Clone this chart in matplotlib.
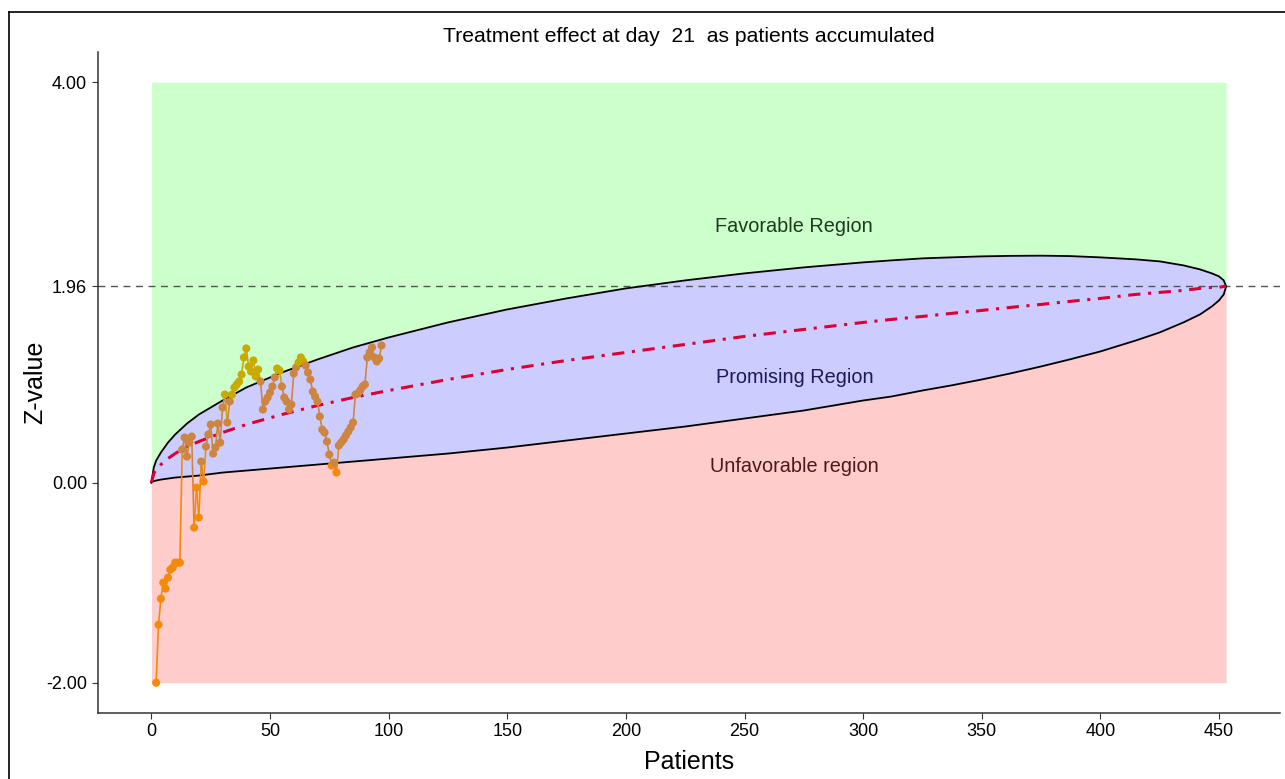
import matplotlib
matplotlib.use("Agg")
import matplotlib.pyplot as plt
import numpy as np
from matplotlib.collections import LineCollection
from matplotlib.lines import Line2D

plt.rcParams["font.family"] = ["Liberation Sans", "DejaVu Sans"]

# boundary curves (patients -> z)
bound_n = [0, 1, 2, 4, 7, 10, 15, 20, 30, 40, 55, 70, 85, 100, 125, 150, 175,
           200, 225, 250, 275, 300, 312, 325, 337, 350, 362, 375, 387, 400,
           415, 425, 435, 442, 447, 450, 452, 453]
upper_z = [0.00, 0.15, 0.22, 0.30, 0.40, 0.48, 0.59, 0.68, 0.82, 0.95, 1.10,
           1.23, 1.35, 1.45, 1.60, 1.73, 1.84, 1.94, 2.02, 2.09, 2.15, 2.20,
           2.22, 2.24, 2.25, 2.26, 2.265, 2.267, 2.263, 2.25, 2.23, 2.21,
           2.17, 2.13, 2.09, 2.06, 2.02, 1.96]
lower_z = [0.00, 0.015, 0.02, 0.03, 0.04, 0.05, 0.06, 0.07, 0.10, 0.12, 0.15,
           0.18, 0.21, 0.24, 0.29, 0.35, 0.42, 0.49, 0.56, 0.64, 0.72, 0.82,
           0.86, 0.92, 0.97, 1.03, 1.09, 1.16, 1.23, 1.31, 1.42, 1.50, 1.60,
           1.68, 1.76, 1.82, 1.88, 1.96]
mid_z = [0.00, 0.09, 0.13, 0.18, 0.24, 0.29, 0.36, 0.41, 0.50, 0.58, 0.68,
         0.77, 0.85, 0.92, 1.03, 1.13, 1.22, 1.30, 1.38, 1.46, 1.53, 1.60,
         1.63, 1.66, 1.69, 1.72, 1.75, 1.78, 1.81, 1.84, 1.88, 1.90, 1.92,
         1.94, 1.95, 1.95, 1.96, 1.96]

# observed trajectory
patients = list(range(2, 98))
zvals = [-2.00, -1.42, -1.16, -1.00, -1.06, -0.95, -0.87, -0.85, -0.80, -0.80,
         -0.80, 0.33, 0.45, 0.26, 0.40, 0.46, -0.45, -0.05, -0.35, 0.21,
         0.01, 0.36, 0.48, 0.58, 0.29, 0.35, 0.59, 0.40, 0.75, 0.88,
         0.60, 0.81, 0.88, 0.95, 0.98, 1.01, 1.08, 1.25, 1.34, 1.16,
         1.11, 1.22, 1.06, 1.13, 1.01, 0.73, 0.81, 0.85, 0.90, 0.96,
         1.05, 1.14, 1.12, 0.96, 0.85, 0.81, 0.73, 0.78, 1.09, 1.15,
         1.20, 1.25, 1.21, 1.17, 1.10, 1.03, 0.91, 0.86, 0.81, 0.66,
         0.53, 0.50, 0.41, 0.28, 0.17, 0.20, 0.10, 0.37, 0.40, 0.43,
         0.47, 0.51, 0.55, 0.60, 0.88, 0.89, 0.92, 0.96, 0.98, 1.25,
         1.30, 1.35, 1.25, 1.21, 1.24, 1.37]

yticks = [-2.0, 0.0, 1.96, 4.0]
xticks = list(range(0, 451, 50))

GREEN = "#CCFFCC"
BLUE = "#CCCCFF"
PINK = "#FFCCCC"
C_UNFAV = "#F58A0A"
C_PROM = "#CD853F"
C_FAV = "#C8AA00"

n_arr = np.asarray(bound_n, dtype=float)
up = np.asarray(upper_z)
lo = np.asarray(lower_z)

fig = plt.figure(figsize=(12.85, 7.79), dpi=100)
ax = fig.add_axes([0.076, 0.085, 0.920, 0.848])

ax.fill_between(n_arr, up, 4.0, color=GREEN, linewidth=0, zorder=0)
ax.fill_between(n_arr, lo, up, color=BLUE, linewidth=0, zorder=0)
ax.fill_between(n_arr, -2.0, lo, color=PINK, linewidth=0, zorder=0)

ax.plot(n_arr, up, color="black", linewidth=1.3, zorder=2)
ax.plot(n_arr, lo, color="black", linewidth=1.3, zorder=2)
ax.axhline(1.96, color="#555555", linewidth=1.0, linestyle=(0, (5, 4)), zorder=1)
ax.plot(n_arr, mid_z, color="#D90036", linewidth=2.2,
        linestyle=(0, (4, 2.5, 1, 2.5)), zorder=3)

# colour points by region
px = np.asarray(patients, dtype=float)
pz = np.asarray(zvals)
u_at = np.interp(px, n_arr, up)
l_at = np.interp(px, n_arr, lo)
colors = np.where(pz > u_at, C_FAV, np.where(pz < l_at, C_UNFAV, C_PROM))

segs = [[(px[i], pz[i]), (px[i + 1], pz[i + 1])] for i in range(len(px) - 1)]
ax.add_collection(LineCollection(segs, colors=colors[:-1], linewidths=1.2, zorder=4))
ax.scatter(px, pz, s=34, c=colors, linewidths=0, zorder=5)

ax.text(271, 2.56, "Favorable Region", ha="center", va="center",
        fontsize=14.3, color="#1E3A1E")
ax.text(271, 1.05, "Promising Region", ha="center", va="center",
        fontsize=14.3, color="#1A1A5A")
ax.text(271, 0.16, "Unfavorable region", ha="center", va="center",
        fontsize=14.3, color="#4A1A1A")

ax.set_xlim(-22.65, 475.65)
ax.set_ylim(-2.3, 4.3)
ax.set_xticks(xticks)
ax.set_yticks(yticks)
ax.set_yticklabels([f"{v:.2f}" for v in yticks])
ax.tick_params(labelsize=13, length=4, color="#333333", labelcolor="black")
for side in ("top", "right"):
    ax.spines[side].set_visible(False)
for side in ("left", "bottom"):
    ax.spines[side].set_color("#333333")
    ax.spines[side].set_linewidth(1.1)

ax.set_xlabel("Patients", fontsize=18)
ax.set_ylabel("Z-value", fontsize=18)
ax.xaxis.set_label_coords(0.5, -0.0565)
ax.yaxis.set_label_coords(-0.043, 0.5)
ax.set_title("Treatment effect at day  21  as patients accumulated",
             fontsize=15.2, pad=7)

# outer frame (partly cut off by the image edge)
fig.add_artist(Line2D([9 / 1285, 9 / 1285], [0, 1 - 12 / 779], color="black",
                      linewidth=1.2, transform=fig.transFigure))
fig.add_artist(Line2D([9 / 1285, 1], [1 - 12 / 779, 1 - 12 / 779], color="black",
                      linewidth=1.2, transform=fig.transFigure))

fig.savefig("out.png", dpi=100)
